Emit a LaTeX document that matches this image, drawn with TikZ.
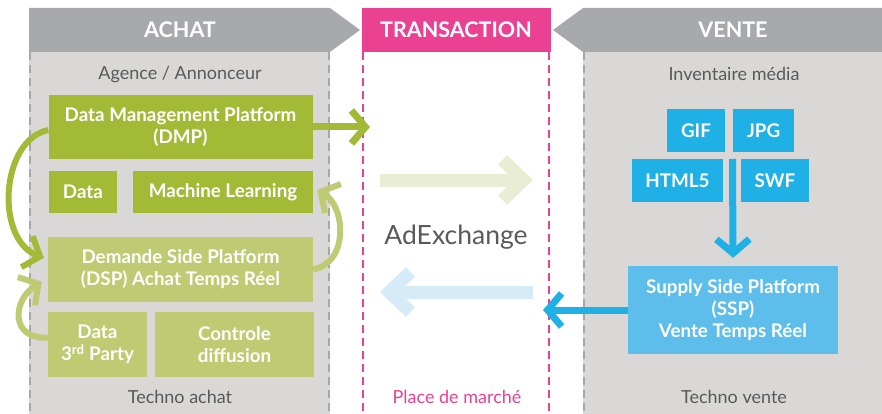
\documentclass[tikz,border=0pt]{standalone}
\usepackage{fontspec}
\setmainfont{Lato}
\usetikzlibrary{arrows.meta}

\definecolor{headgray}{HTML}{A8A9AD}
\definecolor{bodygray}{HTML}{D9D8D7}
\definecolor{dashgray}{HTML}{A6A6AB}
\definecolor{textgray}{HTML}{595959}
\definecolor{dmpgreen}{HTML}{A3BA37}
\definecolor{dspgreen}{HTML}{BFCB72}
\definecolor{palegreen}{HTML}{E8EDD4}
\definecolor{fmtblue}{HTML}{1FB1E6}
\definecolor{sspblue}{HTML}{5DBEEB}
\definecolor{paleblue}{HTML}{D6EBF8}
\definecolor{markpink}{HTML}{EA4193}

\tikzset{
    boxtext/.style = {text = white , font = \bfseries\fontsize{18.8}{22}\selectfont , align = center , inner sep = 0pt},
    darkbox/.style = {boxtext , fill = dmpgreen},
    lightbox/.style = {boxtext , fill = dspgreen},
    fmtbox/.style = {boxtext , fill = fmtblue , minimum height = 43pt},
    headtext/.style = {text = white , font = \bfseries\fontsize{21.5}{25}\selectfont},
    sidetext/.style = {text = textgray , font = \fontsize{18}{21}\selectfont},
    graydash/.style = {draw = dashgray , line width = 2.5pt , dash pattern = on 8pt off 5pt},
    pinkdash/.style = {draw = markpink , line width = 2pt , dash pattern = on 8pt off 5pt},
    thinarrow/.style = {line width = 7pt , -{Straight Barb[sharp , length = 14pt , width = 33pt]}},
    bigarrow/.style = {line width = 13pt , -{Straight Barb[sharp , length = 21pt , width = 40pt]}},
}

\begin{document}
\begin{tikzpicture}[x = 1pt , y = -1pt]
    \useasboundingbox (0,0) rectangle (882,414);

    % Colonnes
    \fill[bodygray] (29,52) rectangle (330,414);
    \fill[bodygray] (583,52) rectangle (882,414);
    \draw[graydash] (30,52) -- (30,414);
    \draw[graydash] (329,52) -- (329,414);
    \draw[graydash] (584,52) -- (584,414);
    \draw[pinkdash] (363,52) -- (363,414);
    \draw[pinkdash] (549,52) -- (549,414);

    % En-tetes
    \fill[headgray] (29,8) -- (330,8) -- (360,30) -- (330,52) -- (29,52) -- cycle;
    \fill[markpink] (362,8) rectangle (551,52);
    \fill[headgray] (882,8) -- (583,8) -- (553,30) -- (583,52) -- (882,52) -- cycle;
    \node[headtext] (achat) at (180,30) {ACHAT};
    \node[headtext] (transaction) at (456,30) {TRANSACTION};
    \node[headtext] (vente) at (733,30) {VENTE};

    % Achat
    \node[sidetext] (agence) at (180,75) {Agence / Annonceur};
    \node[darkbox , minimum width = 264pt , minimum height = 64pt] (dmp) at (180.5,127) {Data Management Platform\\(DMP)};
    \node[darkbox , minimum width = 68pt , minimum height = 42pt] (data) at (83,192) {Data};
    \node[darkbox , minimum width = 180pt , minimum height = 42pt] (ml) at (223,192) {Machine Learning};
    \node[lightbox , minimum width = 265pt , minimum height = 65pt] (dsp) at (180.5,269.5) {Demande Side Platform\\(DSP) Achat Temps Réel};
    \node[lightbox , minimum width = 99pt , minimum height = 65pt] (data3) at (97.5,344.5) {Data\\3\textsuperscript{rd} Party};
    \node[lightbox , minimum width = 159pt , minimum height = 65pt] (ctrl) at (234.5,344.5) {Controle\\diffusion};
    \node[sidetext] (technoachat) at (180,397) {Techno achat};

    % Transaction
    \node[text = textgray , font = \fontsize{26.5}{30}\selectfont] (adx) at (456,237) {AdExchange};
    \node[sidetext , text = markpink] (place) at (457,397) {Place de marché};

    % Vente
    \node[sidetext] (inventaire) at (734,74) {Inventaire média};
    \node[fmtbox , minimum width = 58pt] (gif) at (696,130.5) {GIF};
    \node[fmtbox , minimum width = 61pt] (jpg) at (763.5,130.5) {JPG};
    \node[fmtbox , minimum width = 91pt] (html) at (677.5,180.5) {HTML5};
    \node[fmtbox , minimum width = 68pt] (swf) at (775,180.5) {SWF};
    \node[boxtext , fill = sspblue , minimum width = 210pt , minimum height = 88pt] (ssp) at (733,310) {Supply Side Platform\\(SSP)\\Vente Temps Réel};
    \node[sidetext] (technovente) at (734,397) {Techno vente};

    % Fleches
    \coordinate (dmptip) at (370,127);
    \coordinate (offerstart) at (380,180);
    \coordinate (offerend) at (533,180);
    \coordinate (bidstart) at (533,292);
    \coordinate (bidend) at (380,292);
    \coordinate (fmtstem) at (732.5,159);
    \coordinate (ssptip) at (543,310);
    \draw[thinarrow , dmpgreen] (dmp.east) -- (dmptip);
    \draw[bigarrow , palegreen] (offerstart) -- (offerend);
    \draw[bigarrow , paleblue] (bidstart) -- (bidend);
    \draw[thinarrow , fmtblue] (fmtstem) -- ([yshift = 8pt]ssp.north);
    \draw[thinarrow , fmtblue] (ssp.west) -- (ssptip);
    \draw[thinarrow , line width = 6pt , dmpgreen] ([shift = {(0,3)}]dmp.west) .. controls (0,140) and (-5,240) .. ([shift = {(-4,21)}]dsp.north west);
    \draw[thinarrow , line width = 6pt , dspgreen] ([shift = {(0,-7)}]data3.west) .. controls (10,340) and (12,300) .. ([shift = {(-6,45)}]dsp.north west);
    \draw[thinarrow , line width = 6pt , dspgreen] (dsp.east) .. controls (350,262) and (345,205) .. ([shift = {(4,-2)}]ml.east);
\end{tikzpicture}
\end{document}
